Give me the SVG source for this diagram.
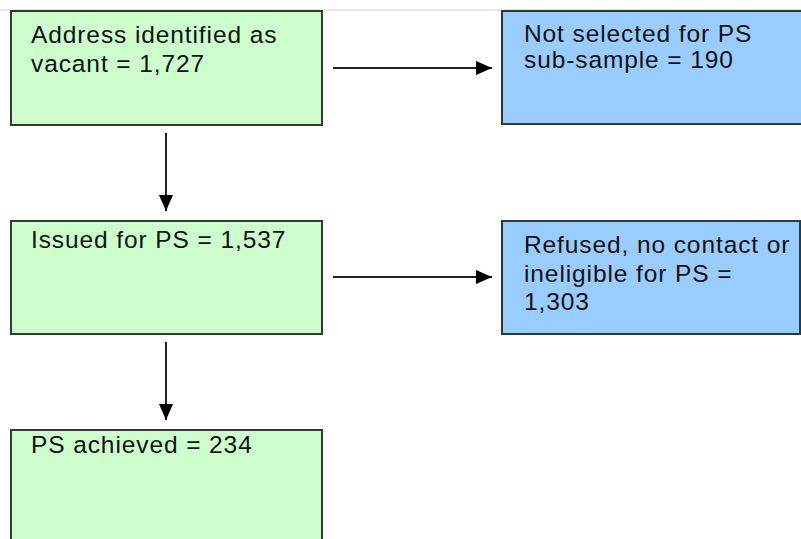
<svg xmlns="http://www.w3.org/2000/svg" width="801" height="539" viewBox="0 0 801 539">
<defs>
<marker id="ah" markerWidth="16" markerHeight="14" refX="16" refY="7" orient="auto" markerUnits="userSpaceOnUse">
<path d="M0,0 L16,7 L0,14 Z" fill="#000"/>
</marker>
<style>
.g{fill:#ccffcc;stroke:#333833;stroke-width:2}
.b{fill:#99ccff;stroke:#333833;stroke-width:2}
.t{font-family:"Liberation Sans",Arial,sans-serif;font-size:24.5px;letter-spacing:0.9px;fill:#111}
.c{stroke:#222;stroke-width:2;fill:none;marker-end:url(#ah)}
</style>
</defs>
<rect width="801" height="539" fill="#fff"/>
<line x1="0" y1="10" x2="801" y2="10" stroke="#d0d0d0" stroke-width="1"/>
<g id="n1">
<rect class="g" x="11" y="11" width="311" height="114"/>
<text class="t" x="31" y="43">Address identified as</text>
<text class="t" x="31" y="72">vacant = 1,727</text>
</g>
<g id="n2">
<rect class="b" x="502" y="11" width="305" height="113"/>
<text class="t" x="524" y="42">Not selected for PS</text>
<text class="t" x="524" y="68">sub-sample = 190</text>
</g>
<g id="n3">
<rect class="g" x="11" y="221" width="311" height="113"/>
<text class="t" x="31" y="248">Issued for PS = 1,537</text>
</g>
<g id="n4">
<rect class="b" x="502" y="221" width="298" height="113"/>
<text class="t" x="524" y="253">Refused, no contact or</text>
<text class="t" x="524" y="282">ineligible for PS =</text>
<text class="t" x="524" y="310">1,303</text>
</g>
<g id="n5">
<rect class="g" x="11" y="430" width="311" height="120"/>
<text class="t" x="31" y="453">PS achieved = 234</text>
</g>
<g id="connectors">
<line class="c" x1="333" y1="68" x2="492" y2="68"/>
<line class="c" x1="333" y1="277" x2="492" y2="277"/>
<line class="c" x1="166" y1="133" x2="166" y2="211"/>
<line class="c" x1="166" y1="342" x2="166" y2="420"/>
</g>
</svg>
